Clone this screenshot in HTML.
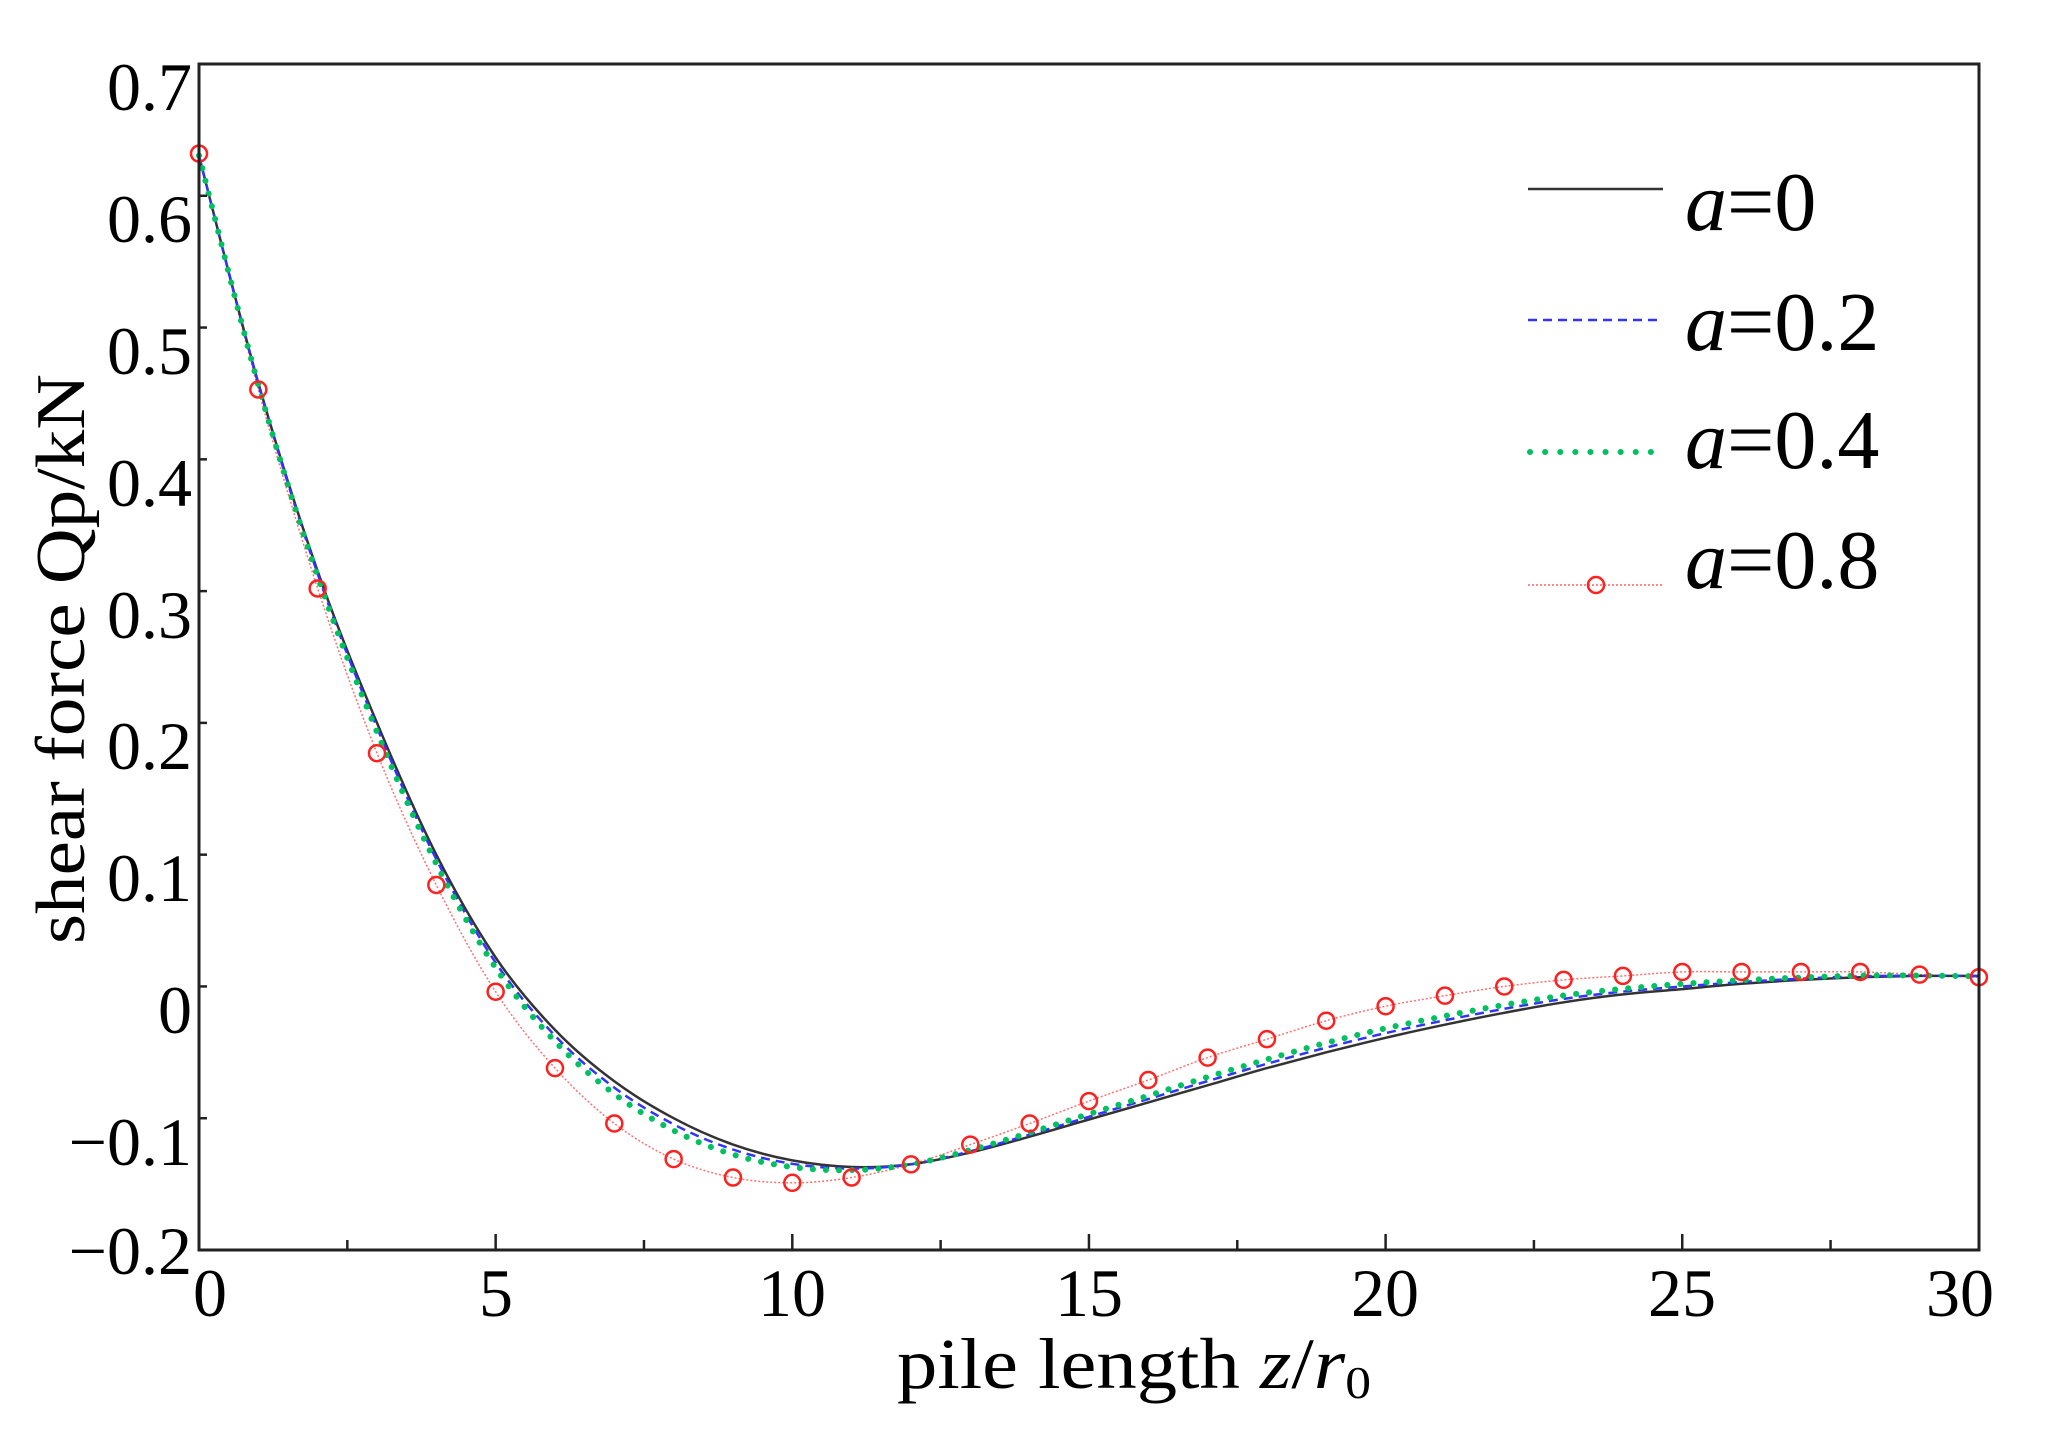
<!DOCTYPE html>
<html><head><meta charset="utf-8"><style>
html,body{margin:0;padding:0;background:#fff;}
svg{display:block;}
text{font-family:"Liberation Serif","Times New Roman",Times,serif;fill:#000;}
</style></head><body>
<svg id="s" width="2055" height="1444" viewBox="0 0 2055 1444" xmlns="http://www.w3.org/2000/svg" font-family="Liberation Serif, Times New Roman, serif">
<rect width="2055" height="1444" fill="#fff"/>
<g id="curves"></g>
<rect x="199" y="64" width="1780" height="1186" fill="none" stroke="#222" stroke-width="3"/>
<g id="ticks" stroke="#222" stroke-width="2.5"></g>
<g font-size="68" text-anchor="end">
<text x="192" y="110">0.7</text>
<text x="192" y="242">0.6</text>
<text x="192" y="374">0.5</text>
<text x="192" y="506">0.4</text>
<text x="192" y="638">0.3</text>
<text x="192" y="769">0.2</text>
<text x="192" y="901">0.1</text>
<text x="192" y="1033">0</text>
<text x="192" y="1165">−0.1</text>
<text x="192" y="1274">−0.2</text>
</g>
<g font-size="68" text-anchor="middle">
<text x="210" y="1316">0</text>
<text x="496" y="1316">5</text>
<text x="792" y="1316">10</text>
<text x="1089" y="1316">15</text>
<text x="1385" y="1316">20</text>
<text x="1682" y="1316">25</text>
<text x="1960" y="1316">30</text>
</g>
<text x="897" y="1388" font-size="72" textLength="474" lengthAdjust="spacingAndGlyphs">pile length <tspan font-style="italic">z</tspan>/<tspan font-style="italic">r</tspan><tspan font-size="46" dy="10">0</tspan></text>
<text transform="translate(84,659) rotate(-90)" font-size="70" text-anchor="middle" textLength="570" lengthAdjust="spacingAndGlyphs">shear force Qp/kN</text>
<line x1="1528" y1="189" x2="1663" y2="189" stroke="#333" stroke-width="2.5"/>
<line x1="1528" y1="320" x2="1663" y2="320" stroke="#3333ff" stroke-width="2.5" stroke-dasharray="9 6"/>
<line x1="1530" y1="452" x2="1663" y2="452" stroke="#00c060" stroke-width="6" stroke-linecap="round" stroke-dasharray="0.1 15"/>
<line x1="1528" y1="585" x2="1663" y2="585" stroke="#ff6060" stroke-width="1.5" stroke-dasharray="2 2"/>
<circle cx="1596" cy="585" r="8" fill="none" stroke="#ff2020" stroke-width="2.5"/>
<g font-size="84">
<text x="1685" y="230"><tspan font-style="italic">a</tspan>=0</text>
<text x="1685" y="350"><tspan font-style="italic">a</tspan>=0.2</text>
<text x="1685" y="468"><tspan font-style="italic">a</tspan>=0.4</text>
<text x="1685" y="588"><tspan font-style="italic">a</tspan>=0.8</text>
</g>
</svg>
<script>
(function(){
var NS="http://www.w3.org/2000/svg";
function X(z){return 199+z*59.33;}
function Y(v){return 64+(0.7-v)/0.9*1186;}
var blk=[0.63,0.458,0.315,0.2,0.1,0.022,-0.033,-0.072,-0.1,-0.12,-0.132,-0.137,-0.135,-0.126,-0.114,-0.101,-0.088,-0.075,-0.062,-0.05,-0.039,-0.029,-0.02,-0.012,-0.006,-0.002,0.002,0.005,0.007,0.008,0.008];
var red=[0.632,0.453,0.302,0.177,0.077,-0.004,-0.062,-0.104,-0.131,-0.145,-0.149,-0.145,-0.135,-0.12,-0.104,-0.087,-0.071,-0.054,-0.04,-0.026,-0.015,-0.007,0.0,0.005,0.008,0.011,0.011,0.011,0.011,0.009,0.007];
function mix(f){return blk.map(function(b,i){return b+f*(red[i]-b);});}
function path(d){
 var p=d.map(function(v,i){return [X(i),Y(v)];});
 var s="M"+p[0][0].toFixed(1)+","+p[0][1].toFixed(1);
 for(var i=0;i<p.length-1;i++){
  var p0=p[Math.max(0,i-1)],p1=p[i],p2=p[i+1],p3=p[Math.min(p.length-1,i+2)];
  var c1=[p1[0]+(p2[0]-p0[0])/6,p1[1]+(p2[1]-p0[1])/6];
  var c2=[p2[0]-(p3[0]-p1[0])/6,p2[1]-(p3[1]-p1[1])/6];
  s+="C"+c1[0].toFixed(1)+","+c1[1].toFixed(1)+" "+c2[0].toFixed(1)+","+c2[1].toFixed(1)+" "+p2[0].toFixed(1)+","+p2[1].toFixed(1);
 }
 return s;
}
var g=document.getElementById("curves");
function add(d,attrs){var e=document.createElementNS(NS,"path");e.setAttribute("d",path(d));e.setAttribute("fill","none");for(var k in attrs)e.setAttribute(k,attrs[k]);g.appendChild(e);}
add(red,{stroke:"#ff7070","stroke-width":"1.5","stroke-dasharray":"2 2"});
add(blk,{stroke:"#333","stroke-width":"2.5"});
add(mix(0.15),{stroke:"#3333ff","stroke-width":"2.5","stroke-dasharray":"9 6"});
add(mix(0.3),{stroke:"#00c060","stroke-width":"6","stroke-linecap":"round","stroke-dasharray":"0.1 13"});
red.forEach(function(v,i){var c=document.createElementNS(NS,"circle");c.setAttribute("cx",X(i));c.setAttribute("cy",Y(v));c.setAttribute("r","8");c.setAttribute("fill","none");c.setAttribute("stroke","#ff2020");c.setAttribute("stroke-width","2.5");g.appendChild(c);});
var t=document.getElementById("ticks");
function ln(x1,y1,x2,y2){var l=document.createElementNS(NS,"line");l.setAttribute("x1",x1);l.setAttribute("y1",y1);l.setAttribute("x2",x2);l.setAttribute("y2",y2);t.appendChild(l);}
for(var z=2.5;z<30;z+=2.5){var maj=(Math.round(z*2)%10===0);ln(X(z),1250,X(z),1250-(maj?16:10));}
for(var v=-0.1;v<0.65;v+=0.1){ln(199,Y(v),207,Y(v));}
})();
</script>
</body></html>
